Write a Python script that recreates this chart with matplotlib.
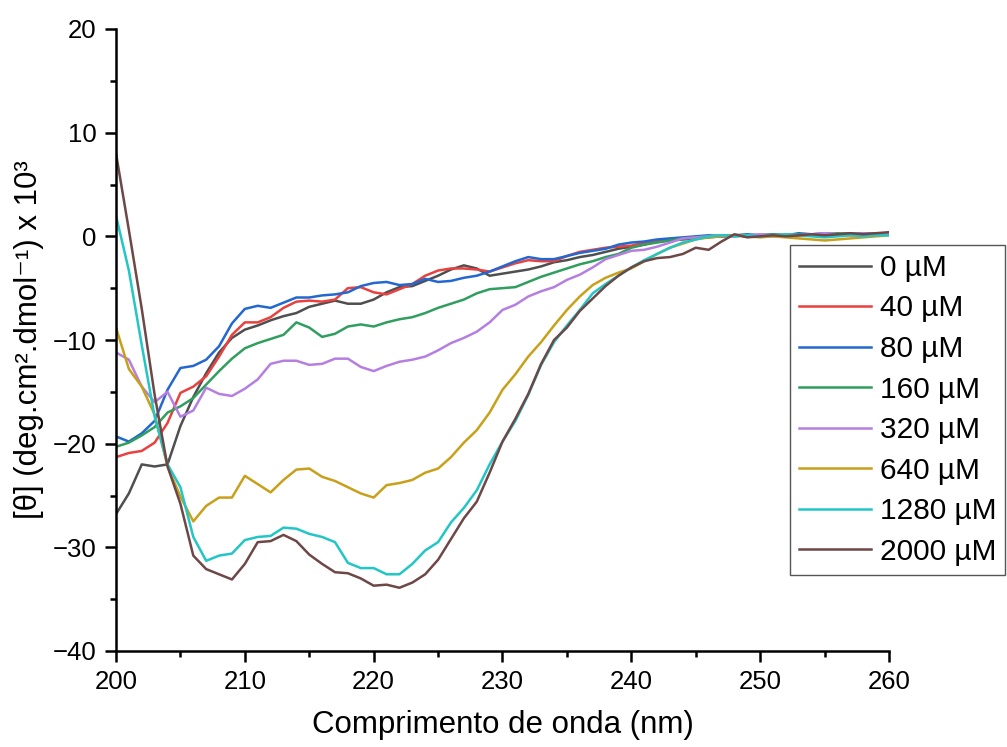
import matplotlib
matplotlib.use("Agg")
import matplotlib.pyplot as plt
import numpy as np
from matplotlib.ticker import MultipleLocator

plt.rcParams['font.family'] = ['Liberation Sans', 'DejaVu Sans']

wavelength = list(range(200, 261))

s0 = [-26.8, -24.8, -22.0, -22.2, -22.0, -18.3, -15.5, -13.2, -11.2, -9.8,
      -9.0, -8.6, -8.1, -7.7, -7.4, -6.8, -6.5, -6.2, -6.5, -6.5,
      -6.1, -5.4, -4.9, -4.8, -4.3, -3.8, -3.2, -2.8, -3.1, -3.8,
      -3.6, -3.4, -3.2, -2.9, -2.5, -2.3, -2.0, -1.8, -1.5, -1.2,
      -1.0, -0.8, -0.5, -0.4, -0.3, -0.2, -0.1, 0.0, 0.1, 0.0,
      0.0, 0.1, 0.0, 0.1, 0.2, 0.1, 0.2, 0.3, 0.1, 0.2, 0.3]
s40 = [-21.3, -20.9, -20.7, -19.9, -18.0, -15.1, -14.5, -13.5, -11.6, -9.5,
       -8.3, -8.3, -7.8, -6.9, -6.3, -6.2, -6.3, -6.1, -5.0, -4.9,
       -5.4, -5.6, -5.1, -4.6, -3.8, -3.3, -3.1, -3.1, -3.2, -3.4,
       -3.0, -2.6, -2.3, -2.4, -2.4, -1.9, -1.5, -1.3, -1.1, -1.0,
       -0.9, -0.6, -0.4, -0.3, -0.2, -0.1, 0.0, 0.0, 0.1, 0.0,
       0.1, 0.0, 0.1, 0.2, 0.1, 0.2, 0.2, 0.1, 0.2, 0.3, 0.3]
s80 = [-19.3, -19.8, -19.0, -17.8, -14.8, -12.7, -12.5, -11.9, -10.6, -8.4,
       -7.0, -6.7, -6.9, -6.4, -5.9, -5.9, -5.7, -5.6, -5.4, -4.8,
       -4.5, -4.4, -4.7, -4.6, -4.1, -4.4, -4.3, -4.0, -3.8, -3.4,
       -2.9, -2.4, -2.0, -2.2, -2.2, -1.9, -1.6, -1.4, -1.2, -0.8,
       -0.6, -0.5, -0.3, -0.2, -0.1, 0.0, 0.1, 0.0, 0.1, 0.2,
       0.1, 0.2, 0.1, 0.3, 0.2, 0.3, 0.2, 0.2, 0.3, 0.2, 0.3]
s160 = [-20.3, -19.9, -19.2, -18.4, -17.0, -16.4, -15.6, -14.3, -13.0, -11.8,
        -10.8, -10.3, -9.9, -9.5, -8.3, -8.8, -9.7, -9.4, -8.7, -8.5,
        -8.7, -8.3, -8.0, -7.8, -7.4, -6.9, -6.5, -6.1, -5.5, -5.1,
        -5.0, -4.9, -4.4, -3.9, -3.5, -3.1, -2.7, -2.4, -2.0, -1.7,
        -1.1, -0.8, -0.6, -0.4, -0.2, -0.1, 0.0, 0.1, 0.0, 0.1,
        0.1, 0.2, 0.1, 0.2, 0.1, 0.2, 0.3, 0.2, 0.2, 0.3, 0.2]
s320 = [-11.2, -11.9, -14.5, -16.0, -15.0, -17.4, -16.8, -14.6, -15.2, -15.4,
        -14.7, -13.8, -12.3, -12.0, -12.0, -12.4, -12.3, -11.8, -11.8, -12.6,
        -13.0, -12.5, -12.1, -11.9, -11.6, -11.0, -10.3, -9.8, -9.2, -8.3,
        -7.1, -6.6, -5.8, -5.3, -4.9, -4.2, -3.7, -3.0, -2.2, -1.8,
        -1.4, -1.3, -1.0, -0.6, -0.2, -0.1, 0.0, 0.1, 0.0, 0.1,
        0.2, 0.1, 0.2, 0.1, 0.2, 0.3, 0.2, 0.2, 0.3, 0.2, 0.3]
s640 = [-8.8, -12.8, -14.5, -17.2, -22.2, -25.1, -27.5, -26.0, -25.2, -25.2,
        -23.1, -23.9, -24.7, -23.5, -22.5, -22.4, -23.2, -23.6, -24.2, -24.8,
        -25.2, -24.0, -23.8, -23.5, -22.8, -22.4, -21.3, -19.9, -18.7, -17.0,
        -14.8, -13.3, -11.6, -10.2, -8.6, -7.1, -5.8, -4.7, -4.0, -3.5,
        -3.1, -2.4, -1.7, -1.1, -0.7, -0.3, -0.1, 0.0, 0.1, 0.0,
        -0.1, 0.0, -0.1, -0.2, -0.3, -0.4, -0.3, -0.2, -0.1, 0.0, 0.1]
s1280 = [2.0, -3.3, -10.5, -17.4, -22.0, -24.2, -29.0, -31.3, -30.8, -30.6,
         -29.3, -29.0, -28.9, -28.1, -28.2, -28.7, -29.0, -29.5, -31.5, -32.0,
         -32.0, -32.6, -32.6, -31.6, -30.3, -29.5, -27.6, -26.2, -24.5, -22.0,
         -19.8, -17.8, -15.3, -12.4, -10.2, -8.6, -7.1, -5.5, -4.6, -3.8,
         -3.0, -2.3, -1.7, -1.1, -0.6, -0.3, 0.0, 0.1, 0.0, 0.1,
         0.0, 0.1, 0.2, 0.1, 0.0, -0.1, 0.0, 0.1, 0.0, 0.1, 0.1]
s2000 = [8.0, 0.6, -7.0, -15.3, -22.2, -25.8, -30.8, -32.1, -32.6, -33.1,
         -31.6, -29.5, -29.4, -28.8, -29.4, -30.7, -31.6, -32.4, -32.5, -33.0,
         -33.7, -33.6, -33.9, -33.4, -32.6, -31.2, -29.2, -27.2, -25.6, -22.8,
         -19.8, -17.6, -15.2, -12.3, -10.0, -8.8, -7.2, -6.0, -4.8, -3.8,
         -3.0, -2.4, -2.1, -2.0, -1.7, -1.1, -1.3, -0.5, 0.2, -0.1,
         0.0, 0.1, 0.0, 0.1, 0.2, 0.1, 0.2, 0.3, 0.2, 0.3, 0.4]

labels = ["0 µM", "40 µM", "80 µM", "160 µM", "320 µM", "640 µM", "1280 µM", "2000 µM"]
series = [s0, s40, s80, s160, s320, s640, s1280, s2000]
colors = ["#4f4f4f", "#e8413f", "#2368d0", "#2f9e5e", "#b57fe0", "#c9a01a", "#22c6c6", "#6e4747"]

fig = plt.figure(figsize=(10.07, 7.47), dpi=100)
ax = fig.add_axes([116/1007, 1-651/747, (889-116)/1007, (651-29)/747])

for y, c, lab in zip(series, colors, labels):
    ax.plot(wavelength, y, color=c, lw=1.8, label=lab)

ax.set_xlim(200, 260)
ax.set_ylim(-40, 20)
ax.xaxis.set_major_locator(MultipleLocator(10))
ax.xaxis.set_minor_locator(MultipleLocator(5))
ax.yaxis.set_major_locator(MultipleLocator(10))
ax.yaxis.set_minor_locator(MultipleLocator(5))
for s in ['top', 'right']:
    ax.spines[s].set_visible(False)
for s in ['left', 'bottom']:
    ax.spines[s].set_linewidth(1.8)
ax.tick_params(which='major', direction='out', length=8, width=1.8, labelsize=18.5, pad=6)
ax.tick_params(which='minor', direction='out', length=4, width=1.8)

ax.set_xlabel("Comprimento de onda (nm)", fontsize=22.5, labelpad=11)
ax.set_ylabel("[θ] (deg.cm².dmol⁻¹) x 10³", fontsize=22.5, labelpad=6)

leg = ax.legend(loc='upper left', bbox_to_anchor=(790/1007, 1-245/747),
                bbox_transform=fig.transFigure, fontsize=21.5, frameon=True,
                fancybox=False, edgecolor='#555555', framealpha=1,
                handlelength=2.4, handletextpad=0.3, labelspacing=0.42,
                borderpad=0.3, borderaxespad=0)
leg.get_frame().set_linewidth(1.0)

fig.savefig("out.png", dpi=100)
